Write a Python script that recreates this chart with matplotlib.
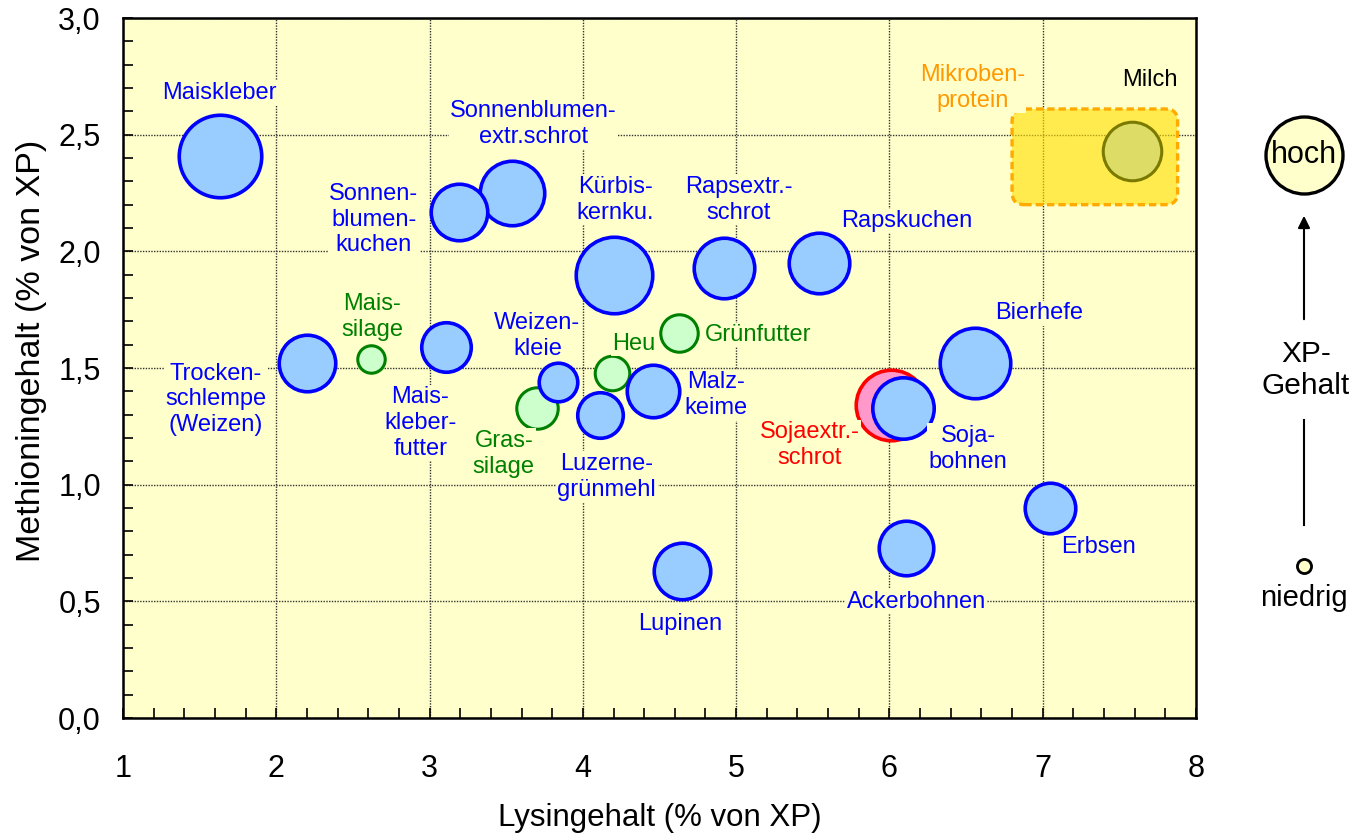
import numpy as np
import matplotlib
matplotlib.use('Agg')
import matplotlib.pyplot as plt
from matplotlib.patches import FancyBboxPatch
from matplotlib.ticker import MultipleLocator, FuncFormatter

plt.rcParams['font.family'] = ['Liberation Sans', 'DejaVu Sans']

# Futtermittel (Zeichenreihenfolge: grüne zuerst, Milch zuletzt)
names = ['Mais-\nsilage', 'Gras-\nsilage', 'Heu', 'Grünfutter', 'Sojaextr.-\nschrot',
         'Maiskleber', 'Trocken-\nschlempe\n(Weizen)', 'Mais-\nkleber-\nfutter',
         'Weizen-\nkleie', 'Luzerne-\ngrünmehl', 'Malz-\nkeime',
         'Sonnenblumen-\nextr.schrot', 'Sonnen-\nblumen-\nkuchen', 'Kürbis-\nkernku.',
         'Rapsextr.-\nschrot', 'Rapskuchen', 'Bierhefe', 'Soja-\nbohnen', 'Erbsen',
         'Ackerbohnen', 'Lupinen', 'Milch']
kinds = ['gruen', 'gruen', 'gruen', 'gruen', 'rot',
         'blau', 'blau', 'blau', 'blau', 'blau', 'blau', 'blau', 'blau', 'blau',
         'blau', 'blau', 'blau', 'blau', 'blau', 'blau', 'blau', 'milch']
lysin = [2.62, 3.70, 4.19, 4.63, 6.01,
         1.63, 2.20, 3.11, 3.84, 4.11, 4.46, 3.54, 3.19, 4.20,
         4.92, 5.54, 6.56, 6.09, 7.05, 6.11, 4.65, 7.58]
methionin = [1.54, 1.33, 1.48, 1.65, 1.34,
             2.41, 1.52, 1.59, 1.44, 1.30, 1.40, 2.25, 2.17, 1.90,
             1.93, 1.95, 1.52, 1.33, 0.90, 0.73, 0.63, 2.43]
xp_gehalt = [7.2, 16.4, 11.4, 13.4, 47.5,
             65, 30.5, 23.4, 14.2, 19.8, 26.3, 39.7, 30.5, 55.9,
             35, 35, 47.5, 36, 24.4, 28.4, 30.5, 32.7]

# Mikrobenprotein-Bereich (Lysin von/bis, Methionin von/bis)
mikroben_lys = [6.80, 7.88]
mikroben_met = [2.20, 2.61]

legend_xp = [56.6, 1.9]  # hoch, niedrig

# Beschriftungsversatz in Pixeln (rechts, oben)
label_offsets = [(1, 42), (-33, -46), (22, 29), (79, -2), (-81, -40),
                 (0, 63), (-91, -36), (-26, -76), (-21, 46), (7, -62), (63, -4),
                 (21, 69), (-85, -8), (2, 75), (15, 68), (88, 42), (64, 50),
                 (65, -41), (48, -39), (10, -54), (-2, -53), (18, 71)]

styles = {
    'blau': dict(face='#99CCFF', edge='#0000FF', lw=2.6, text='#0000FF'),
    'gruen': dict(face='#CCFFCC', edge='#008000', lw=2.2, text='#008000'),
    'rot': dict(face='#FF99CC', edge='#FF0000', lw=2.6, text='#FF0000'),
    'milch': dict(face='#DCDC66', edge='#7A7A00', lw=2.2, text='#000000'),
}
bg = '#FFFFCC'
size_k = 54.3

fig = plt.figure(figsize=(13.6, 8.35), dpi=100)
ax = fig.add_axes([123 / 1360, 117 / 835, 1073 / 1360, 700 / 835])
ax.set_facecolor(bg)
ax.set_xlim(1, 8)
ax.set_ylim(0, 3)
ax.set_axisbelow(True)

ax.xaxis.set_major_locator(MultipleLocator(1))
ax.xaxis.set_minor_locator(MultipleLocator(0.2))
ax.yaxis.set_major_locator(MultipleLocator(0.5))
ax.yaxis.set_minor_locator(MultipleLocator(0.1))
ax.yaxis.set_major_formatter(FuncFormatter(lambda v, p: f'{v:.1f}'.replace('.', ',')))
ax.tick_params(which='both', direction='in', length=7, width=1.2, labelsize=22)
ax.tick_params(axis='x', which='major', pad=26)
ax.tick_params(axis='y', which='major', pad=16)
ax.grid(True, which='major', color='#333333', linestyle=(0, (1, 1)), linewidth=1.0)
for sp in ax.spines.values():
    sp.set_linewidth(1.8)

ax.set_xlabel('Lysingehalt (% von XP)', fontsize=22.5)
ax.set_ylabel('Methioningehalt (% von XP)', fontsize=24.5)
ax.xaxis.set_label_coords(0.5, -0.121)
ax.yaxis.set_label_coords(-0.071, 0.525)

# Mikrobenprotein
box = FancyBboxPatch((mikroben_lys[0], mikroben_met[0]),
                     mikroben_lys[1] - mikroben_lys[0], mikroben_met[1] - mikroben_met[0],
                     boxstyle='round,pad=0,rounding_size=0.08', mutation_aspect=0.657,
                     facecolor='#FFE000', alpha=0.62, edgecolor='none', zorder=2)
ax.add_patch(box)
box_edge = FancyBboxPatch((mikroben_lys[0], mikroben_met[0]),
                          mikroben_lys[1] - mikroben_lys[0], mikroben_met[1] - mikroben_met[0],
                          boxstyle='round,pad=0,rounding_size=0.08', mutation_aspect=0.657,
                          facecolor='none', edgecolor='#FFAA00', linewidth=2.4,
                          linestyle=(0, (2.2, 1.2)), zorder=2.1)
ax.add_patch(box_edge)
ax.text(6.54, 2.70, 'Mikroben-\nprotein', color='#FF9900', fontsize=17,
        ha='center', va='center', linespacing=1.22, zorder=4,
        bbox=dict(facecolor=bg, edgecolor='none', pad=1))

# Blasen
for i in range(len(names)):
    st = styles[kinds[i]]
    ax.scatter(lysin[i], methionin[i], s=xp_gehalt[i] * size_k, facecolor=st['face'],
               edgecolor=st['edge'], linewidth=st['lw'], zorder=3 + i * 0.01)
    ax.annotate(names[i], (lysin[i], methionin[i]), xytext=label_offsets[i],
                textcoords='offset pixels', ha='center', va='center',
                fontsize=17, color=st['text'], linespacing=1.22, zorder=4,
                bbox=dict(facecolor=bg, edgecolor='none', pad=1))

# Legende rechts (XP-Gehalt)
lg = fig.add_axes([0, 0, 1, 1])
lg.set_xlim(0, 1360)
lg.set_ylim(835, 0)
lg.axis('off')
lg.scatter([1304], [155], s=legend_xp[0] * size_k, facecolor=bg, edgecolor='black', linewidth=2.4)
lg.text(1304, 155, 'hoch', fontsize=22, ha='center', va='center')
lg.scatter([1304], [566], s=legend_xp[1] * size_k, facecolor=bg, edgecolor='black', linewidth=2.0)
lg.text(1304, 598, 'niedrig', fontsize=21, ha='center', va='center')
lg.plot([1304, 1304], [525, 420], color='black', linewidth=1.5)
lg.annotate('', xy=(1304, 213), xytext=(1304, 322),
            arrowprops=dict(arrowstyle='-|>', color='black', linewidth=1.5, mutation_scale=18))
lg.text(1306, 370, 'XP-\nGehalt', fontsize=21.5, ha='center', va='center', linespacing=1.2)

fig.savefig('out.png', dpi=100)
